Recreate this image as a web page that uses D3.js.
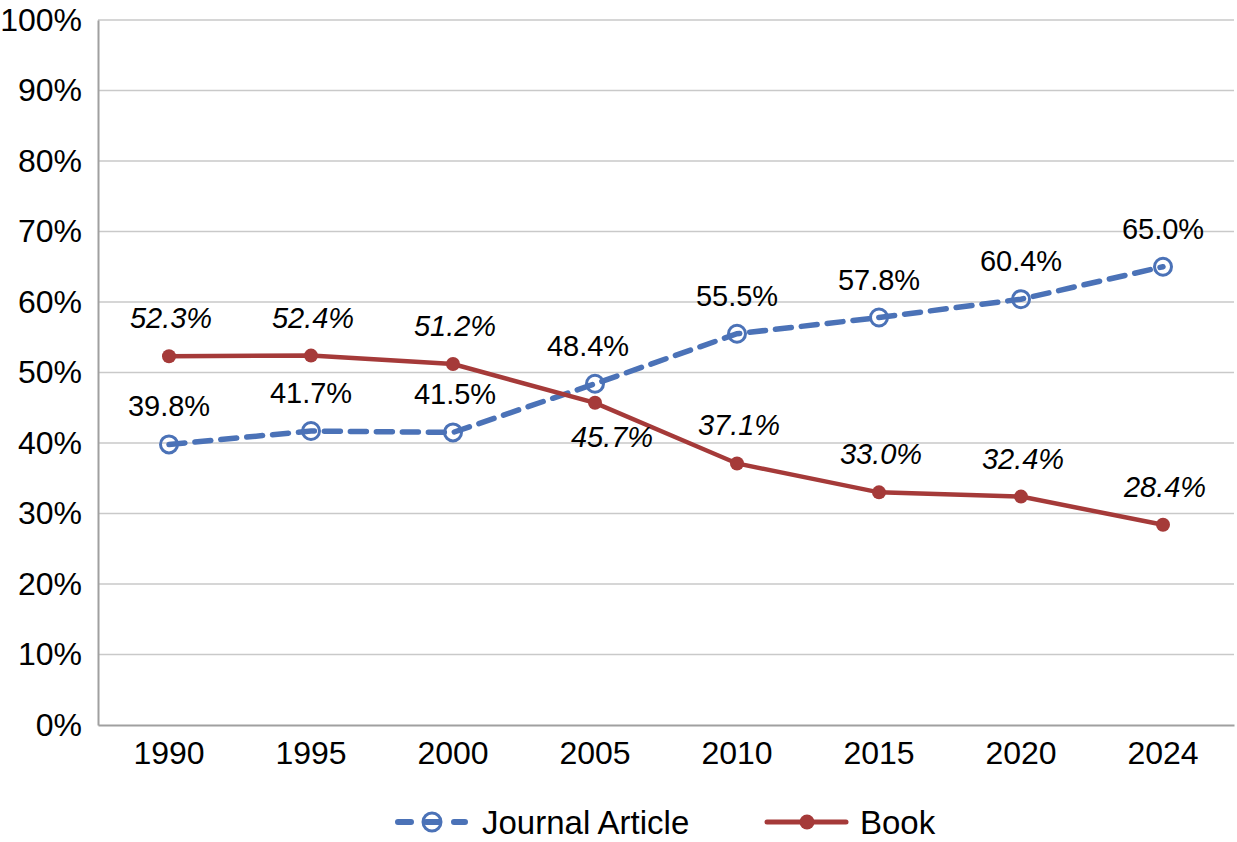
<!DOCTYPE html>
<html>
<head>
<meta charset="utf-8">
<script src="https://cdn.jsdelivr.net/npm/d3@7"></script>
<style>
body { margin: 0; background: #fff; }
text { font-family: "Liberation Sans", Arial, Helvetica, sans-serif; }
</style>
</head>
<body>
<div id="vis"></div>
<script>
// data
var years = ["1990", "1995", "2000", "2005", "2010", "2015", "2020", "2024"];
var journal = [39.8, 41.7, 41.5, 48.4, 55.5, 57.8, 60.4, 65.0];
var book = [52.3, 52.4, 51.2, 45.7, 37.1, 33.0, 32.4, 28.4];
var yTicks = [0, 10, 20, 30, 40, 50, 60, 70, 80, 90, 100];
// label below the point instead of above (book 2005)
var bookBelow = [false, false, false, true, false, false, false, false];
var journalDx = [0, 0, 2, -7, 0, 0, 0, 0];

var width = 1237, height = 842;
var margin = {top: 20, right: 3, bottom: 117, left: 98};
var blue = "#4b72b7", red = "#a53a39";

var svg = d3.select("#vis").append("svg")
    .attr("width", width).attr("height", height);

var x = d3.scaleBand().domain(years).range([margin.left, width - margin.right]);
var y = d3.scaleLinear().domain([0, 100]).range([height - margin.bottom, margin.top]);
function cx(d, i) { return x(years[i]) + x.bandwidth() / 2; }

// gridlines
svg.append("g").selectAll("line").data(yTicks.slice(1)).enter().append("line")
    .attr("x1", margin.left).attr("x2", width - margin.right)
    .attr("y1", function (d) { return y(d); }).attr("y2", function (d) { return y(d); })
    .attr("stroke", "#c9c9c9").attr("stroke-width", 1.5);

// y axis
var yAxis = svg.append("g").attr("transform", "translate(" + margin.left + ",0)")
    .call(d3.axisLeft(y).tickValues(yTicks).tickSize(0).tickPadding(16)
        .tickFormat(function (d) { return d + "%"; }));
yAxis.select(".domain").attr("stroke", "#a0a0a0").attr("stroke-width", 2);
yAxis.selectAll("text").style("font-size", "32px").attr("fill", "#000");

// x axis
var xAxis = svg.append("g").attr("transform", "translate(0," + y(0) + ")")
    .call(d3.axisBottom(x).tickSize(0).tickPadding(16));
xAxis.select(".domain").attr("stroke", "#a0a0a0").attr("stroke-width", 2);
xAxis.selectAll("text").style("font-size", "32px").attr("fill", "#000");

var line = d3.line().x(cx).y(function (d) { return y(d); });

// journal series
svg.append("path").datum(journal).attr("d", line)
    .attr("fill", "none").attr("stroke", blue).attr("stroke-width", 5.5)
    .attr("stroke-dasharray", "16,10").attr("stroke-linecap", "round");
svg.append("g").selectAll("circle").data(journal).enter().append("circle")
    .attr("cx", cx).attr("cy", function (d) { return y(d); }).attr("r", 8.5)
    .attr("fill", "none").attr("stroke", blue).attr("stroke-width", 3);

// book series
svg.append("path").datum(book).attr("d", line)
    .attr("fill", "none").attr("stroke", red).attr("stroke-width", 4.5);
svg.append("g").selectAll("circle").data(book).enter().append("circle")
    .attr("cx", cx).attr("cy", function (d) { return y(d); }).attr("r", 7)
    .attr("fill", red);

// labels
svg.append("g").selectAll("text").data(journal).enter().append("text")
    .attr("x", function (d, i) { return cx(d, i) + journalDx[i]; })
    .attr("y", function (d) { return y(d) - 28; })
    .attr("text-anchor", "middle").style("font-size", "29px")
    .text(function (d) { return d.toFixed(1) + "%"; });

svg.append("g").selectAll("text").data(book).enter().append("text")
    .attr("x", function (d, i) { return cx(d, i) + (bookBelow[i] ? 17 : 2); })
    .attr("y", function (d, i) { return bookBelow[i] ? y(d) + 44 : y(d) - 28; })
    .attr("text-anchor", "middle").style("font-size", "29px").style("font-style", "italic")
    .text(function (d) { return d.toFixed(1) + "%"; });

// legend
var leg = svg.append("g").attr("transform", "translate(0,822)");
leg.append("line").attr("x1", 398).attr("x2", 465).attr("y1", 0).attr("y2", 0)
    .attr("stroke", blue).attr("stroke-width", 6)
    .attr("stroke-dasharray", "13,15").attr("stroke-linecap", "round");
leg.append("circle").attr("cx", 432).attr("cy", 0).attr("r", 9)
    .attr("fill", "none").attr("stroke", blue).attr("stroke-width", 3);
leg.append("text").attr("x", 482).attr("y", 12).style("font-size", "33px").text("Journal Article");
leg.append("line").attr("x1", 767).attr("x2", 846).attr("y1", 0).attr("y2", 0)
    .attr("stroke", red).attr("stroke-width", 5).attr("stroke-linecap", "round");
leg.append("circle").attr("cx", 807).attr("cy", 0).attr("r", 7.5).attr("fill", red);
leg.append("text").attr("x", 860).attr("y", 12).style("font-size", "33px").text("Book");
</script>
</body>
</html>
